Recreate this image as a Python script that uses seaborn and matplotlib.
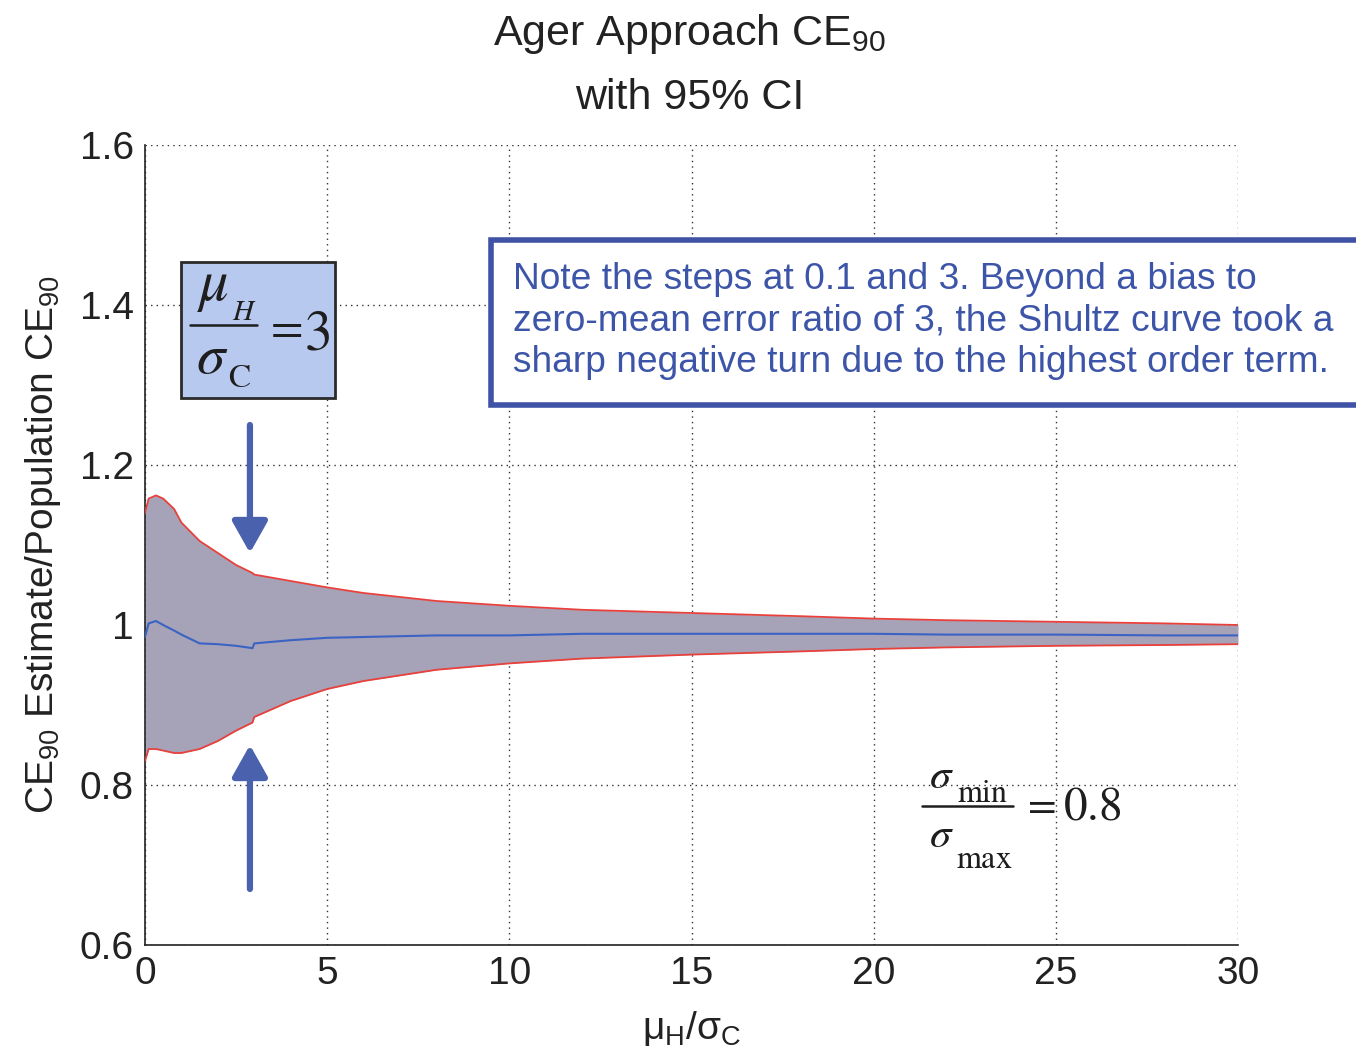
import matplotlib
matplotlib.use("Agg")
import matplotlib.pyplot as plt
import seaborn as sns
import pandas as pd
from matplotlib.patches import Rectangle
from matplotlib.lines import Line2D

# ---- data ----
ratio = [0, 0.1, 0.3, 0.5, 0.8, 1.0, 1.5, 2.0, 2.5, 2.95, 3.0, 4, 5, 6, 8,
         10, 12, 15, 18, 20, 22, 25, 28, 30]
upper = [1.14, 1.158, 1.162, 1.158, 1.145, 1.128, 1.105, 1.09, 1.075, 1.065, 1.063,
         1.055, 1.047, 1.04, 1.03, 1.024, 1.019, 1.015, 1.011, 1.008, 1.006, 1.004,
         1.002, 1.0]
lower = [0.83, 0.845, 0.845, 0.843, 0.840, 0.840, 0.845, 0.855, 0.868, 0.878, 0.885,
         0.905, 0.92, 0.93, 0.944, 0.952, 0.958, 0.963, 0.967, 0.970, 0.972, 0.974,
         0.975, 0.976]
mean = [0.985, 1.002, 1.005, 1.0, 0.993, 0.988, 0.977, 0.976, 0.974, 0.971, 0.977,
        0.981, 0.984, 0.985, 0.987, 0.987, 0.989, 0.989, 0.989, 0.989, 0.988, 0.988,
        0.987, 0.987]
xticks = [0, 5, 10, 15, 20, 25, 30]
yticks = [0.6, 0.8, 1.0, 1.2, 1.4, 1.6]
ytick_labels = ["0.6", "0.8", "1", "1.2", "1.4", "1.6"]

df = pd.DataFrame({"ratio": ratio, "upper": upper, "lower": lower, "mean": mean})

sns.set_theme(style="white")
plt.rcParams["font.family"] = ["Liberation Sans", "DejaVu Sans"]
plt.rcParams["mathtext.fontset"] = "custom"
plt.rcParams["mathtext.rm"] = "Liberation Sans"
plt.rcParams["mathtext.it"] = "Liberation Sans:italic"
plt.rcParams["mathtext.bf"] = "Liberation Sans:bold"

W, H = 1356, 1053
fig = plt.figure(figsize=(W / 100, H / 100), dpi=100)
ax = fig.add_axes([145/W, 1-945/H, (1238-145)/W, (945-145)/H])


def P(x, y):
    """pixel (from top-left) -> figure fraction"""
    return x / W, 1 - y / H


ax.fill_between(df["ratio"], df["lower"], df["upper"], color="#a6a2b7", lw=0, zorder=2)
sns.lineplot(data=df, x="ratio", y="upper", ax=ax, color="#e8413c", lw=1.3, zorder=3)
sns.lineplot(data=df, x="ratio", y="lower", ax=ax, color="#e8413c", lw=1.3, zorder=3)
sns.lineplot(data=df, x="ratio", y="mean", ax=ax, color="#3b63c4", lw=1.5, zorder=4)

ax.set_xlim(0, 30)
ax.set_ylim(0.6, 1.6)
ax.set_xticks(xticks)
ax.set_xticklabels([str(t) for t in xticks])
ax.set_yticks(yticks)
ax.set_yticklabels(ytick_labels)
ax.tick_params(axis="both", labelsize=28, colors="#222222", length=0, pad=8)
ax.grid(True, linestyle=(0, (1, 3)), color="#333333", lw=1.0)
for s in ["top", "right"]:
    ax.spines[s].set_visible(False)
for s in ["left", "bottom"]:
    ax.spines[s].set_color("#222222")
    ax.spines[s].set_linewidth(1.2)

ax.set_xlabel(r"μ$_{\rm H}$/σ$_{\rm C}$", fontsize=28, color="#222222", labelpad=12)
ax.set_ylabel(r"CE$_{90}$ Estimate/Population CE$_{90}$", fontsize=28,
              color="#222222", labelpad=12)

fig.text(*P(690, 34), r"Ager Approach CE$_{90}$", fontsize=31, ha="center",
         va="center", color="#222222")
fig.text(*P(690, 98), "with 95% CI", fontsize=31, ha="center", va="center",
         color="#222222")

# ---- left blue box with mu_H / sigma_C = 3 ----
fig.patches.append(Rectangle(P(181, 398), (335-181)/W, (398-262)/H,
                             transform=fig.transFigure, facecolor="#b8c9ef",
                             edgecolor="#2a2a2a", lw=2, zorder=5))
mt = dict(math_fontfamily="stix", color="#1e1e1e", zorder=6)
fig.text(*P(213, 300), r"$\mu$", fontsize=42, ha="center", va="baseline", **mt)
fig.text(*P(232, 320), r"$H$", fontsize=21, ha="left", va="baseline", **mt)
fig.add_artist(Line2D([190/W, 257/W], [1-325/H, 1-325/H], color="#1e1e1e", lw=1.8,
                      transform=fig.transFigure, zorder=6))
fig.text(*P(212, 373), r"$\sigma$", fontsize=41, ha="center", va="baseline", **mt)
fig.text(*P(228, 387), r"$\mathrm{C}$", fontsize=24, ha="left", va="baseline", **mt)
fig.text(*P(283, 329), r"$=$", fontsize=34, ha="center", va="center", **mt)
fig.text(*P(317, 350), r"$3$", fontsize=40, ha="center", va="baseline", **mt)

# ---- note box ----
fig.patches.append(Rectangle(P(491, 405), 0.7, (405-240)/H,
                             transform=fig.transFigure, facecolor="white",
                             edgecolor="#3f52a5", lw=4, zorder=5))
note = ("Note the steps at 0.1 and 3. Beyond a bias to\n"
        "zero-mean error ratio of 3, the Shultz curve took a\n"
        "sharp negative turn due to the highest order term.")
fig.text(*P(513, 321), note, fontsize=26.7, ha="left", va="center",
         color="#3d55a8", linespacing=1.25, zorder=6)

# ---- arrows ----
arrow_kw = dict(arrowstyle="-|>,head_width=0.45,head_length=0.8", color="#4a62ad",
                lw=4.5, mutation_scale=24, shrinkA=0, shrinkB=0)
ax.annotate("", xy=(2.88, 1.09), xytext=(2.88, 1.25), arrowprops=arrow_kw, zorder=6)
ax.annotate("", xy=(2.88, 0.85), xytext=(2.88, 0.67), arrowprops=arrow_kw, zorder=6)

# ---- sigma_min / sigma_max = 0.8 ----
fig.text(*P(941, 788), r"$\sigma$", fontsize=31, ha="center", va="baseline", **mt)
fig.text(*P(957, 802), r"$\mathrm{min}$", fontsize=23, ha="left", va="baseline", **mt)
fig.add_artist(Line2D([922/W, 1013/W], [1-806/H, 1-806/H], color="#1e1e1e", lw=1.8,
                      transform=fig.transFigure, zorder=6))
fig.text(*P(941, 847), r"$\sigma$", fontsize=31, ha="center", va="baseline", **mt)
fig.text(*P(956, 868), r"$\mathrm{max}$", fontsize=23, ha="left", va="baseline", **mt)
fig.text(*P(1038, 805), r"$=$", fontsize=30, ha="center", va="center", **mt)
fig.text(*P(1092, 820), r"$0.8$", fontsize=34, ha="center", va="baseline", **mt)

fig.savefig("out.png", dpi=100)
